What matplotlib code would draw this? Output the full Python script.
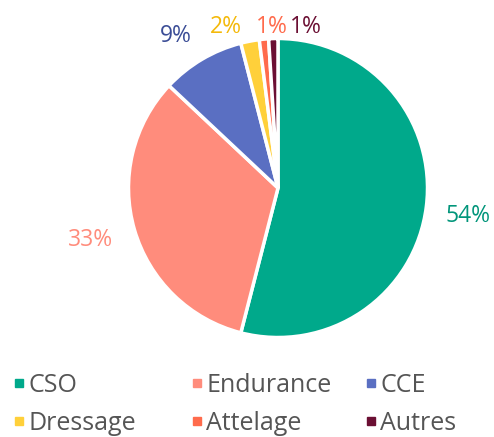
import matplotlib
matplotlib.use("Agg")
import matplotlib.pyplot as plt
import numpy as np
from matplotlib.lines import Line2D

categories = ["CSO", "Endurance", "CCE", "Dressage", "Attelage", "Autres"]
values = [54, 33, 9, 2, 1, 1]
colors = ["#00a98b", "#ff8c7c", "#5a6fc2", "#ffd03a", "#ff6b4c", "#6b0f33"]
label_colors = ["#00957a", "#ff8c7c", "#3b4d96", "#f4b90a", "#ff6b4c", "#6b0f33"]

plt.rcParams['font.family'] = ['Open Sans', 'DejaVu Sans']

W, H = 494, 437
fig = plt.figure(figsize=(W / 100, H / 100), dpi=100)
ax = fig.add_axes([0, 0, 1, 1])
cx, cy, R = 278, 188, 149.5

wedges, _ = ax.pie(values, colors=colors, startangle=90, counterclock=False,
                   radius=1.0, wedgeprops=dict(edgecolor='white', linewidth=2.5))
ax.set_aspect('auto')
ax.set_xlim(-cx / R, (W - cx) / R)
ax.set_ylim(-(H - cy) / R, cy / R)
ax.axis('off')

# label positions (data units)
lab_pos = []
for w in wedges:
    mid = np.deg2rad((w.theta1 + w.theta2) / 2)
    lab_pos.append([1.27 * np.cos(mid), 1.27 * np.sin(mid)])
lab_pos[0] = [1.271, -0.164]
lab_pos[1] = [-1.254, -0.328]
# crowded small slices spread along the top
lab_pos[2] = [-0.682, 1.035]
lab_pos[3] = [-0.348, 1.097]
lab_pos[4] = [-0.04, 1.097]
lab_pos[5] = [0.187, 1.097]

for v, (x, y), c in zip(values, lab_pos, label_colors):
    ax.text(x, y, f"{v}%", ha='center', va='center_baseline', fontsize=16.5, color=c)

# legend laid out in fixed columns
col_x = [15, 193, 367]
row_y = [383, 421]
for i, (cat, col) in enumerate(zip(categories, colors)):
    r, c = divmod(i, 3)
    px, py = col_x[c], row_y[r]
    fig.add_artist(Line2D([(px + 4) / W], [1 - py / H], marker='s', markersize=5.8,
                          color=col, linestyle='none', transform=fig.transFigure))
    fig.text((px + 13) / W, 1 - py / H, cat, ha='left', va='center_baseline',
             fontsize=18, color='#555555')

fig.savefig("out.png", dpi=100)
